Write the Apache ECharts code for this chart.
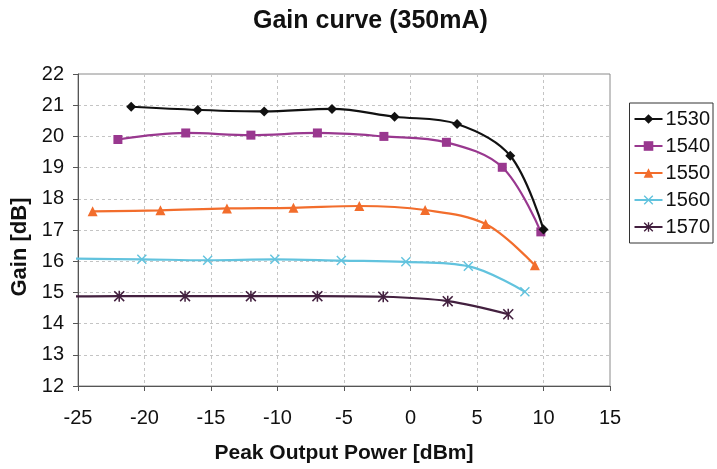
<!DOCTYPE html>
<html>
<head>
<meta charset="utf-8">
<script src="https://cdn.jsdelivr.net/npm/echarts@6/dist/echarts.min.js"></script>
<style>
  html, body { margin: 0; padding: 0; background: #ffffff; }
  #chart { width: 717px; height: 469px; }
</style>
</head>
<body>
<div id="chart"></div>
<script>
// Peak output power [dBm] and gain [dB] for each wavelength (nm)
var names = ['1530', '1540', '1550', '1560', '1570'];

var power1530 = [-21.0, -16.0, -11.0, -5.9, -1.2, 3.5, 7.5, 10.0];
var gain1530  = [20.95, 20.85, 20.8, 20.88, 20.63, 20.4, 19.38, 17.02];

var power1540 = [-22.0, -16.9, -12.0, -7.0, -2.0, 2.7, 6.9, 9.8];
var gain1540  = [19.9, 20.11, 20.04, 20.11, 20.0, 19.81, 19.01, 16.94];

var power1550 = [-23.9, -18.8, -13.8, -8.8, -3.85, 1.1, 5.65, 9.35];
var gain1550  = [17.6, 17.63, 17.69, 17.71, 17.77, 17.64, 17.19, 15.87];

var power1560 = [-25.2, -20.2, -15.25, -10.2, -5.2, -0.35, 4.35, 8.6];
var gain1560  = [16.08, 16.06, 16.03, 16.06, 16.02, 15.98, 15.84, 15.02];

var power1570 = [-26.9, -21.9, -16.95, -12.0, -7.0, -2.05, 2.8, 7.35];
var gain1570  = [14.86, 14.88, 14.88, 14.88, 14.88, 14.86, 14.72, 14.3];

var xTicks = { min: -25, max: 15, interval: 5 };
var yTicks = { min: 12, max: 22, interval: 1 };

var FONT = '"Liberation Sans", Arial, sans-serif';

// marker outlines
var crossPath = 'path://M0,1L1,0L5,4L9,0L10,1L6,5L10,9L9,10L5,6L1,10L0,9L4,5Z';
var starPath = 'path://M0,1L1,0L5,4L9,0L10,1L6,5L10,9L9,10L5,6L1,10L0,9L4,5Z' +
               'M4.3,0L5.7,0L5.7,10L4.3,10Z';

function pairs(xs, ys) {
  return xs.map(function (x, i) { return [x, ys[i]]; });
}

var styles = [
  { color: '#111111', symbol: 'diamond', size: 10 },
  { color: '#99388f', symbol: 'rect', size: 9 },
  { color: '#f26d2c', symbol: 'triangle', size: 10 },
  { color: '#62c3de', symbol: crossPath, size: 10 },
  { color: '#43203f', symbol: starPath, size: 11 }
];

var dataSets = [
  pairs(power1530, gain1530),
  pairs(power1540, gain1540),
  pairs(power1550, gain1550),
  pairs(power1560, gain1560),
  pairs(power1570, gain1570)
];

var series = names.map(function (n, i) {
  var s = styles[i];
  return {
    name: n,
    type: 'line',
    data: dataSets[i],
    smooth: 0.35,
    clip: true,
    symbol: s.symbol,
    symbolSize: s.size,
    showAllSymbol: true,
    lineStyle: { color: s.color, width: 2.2 },
    itemStyle: { color: s.color },
    emphasis: { disabled: true },
    z: 10 - i
  };
});

var chart = echarts.init(document.getElementById('chart'), null, { renderer: 'canvas' });
chart.setOption({
  animation: false,
  backgroundColor: '#ffffff',
  title: {
    text: 'Gain curve (350mA)',
    left: 253,
    top: 9,
    padding: 0,
    textStyle: { fontFamily: FONT, fontSize: 25, fontWeight: 'bold', color: '#111' }
  },
  grid: {
    left: 78, right: 107, top: 74, bottom: 83,
    show: true, borderColor: '#8a8a8a', borderWidth: 1, backgroundColor: 'transparent'
  },
  legend: {
    orient: 'vertical',
    right: 4,
    top: 103,
    data: names,
    itemWidth: 28,
    itemHeight: 12,
    itemGap: 7,
    padding: [6, 3, 6, 4],
    borderColor: '#333',
    borderWidth: 1,
    backgroundColor: '#fff',
    textStyle: { fontFamily: FONT, fontSize: 20, color: '#111', padding: [0, 0, 0, -2] }
  },
  xAxis: {
    type: 'value',
    min: xTicks.min, max: xTicks.max, interval: xTicks.interval,
    name: 'Peak Output Power [dBm]',
    nameLocation: 'middle',
    nameGap: 57,
    nameTextStyle: { fontFamily: FONT, fontSize: 21, fontWeight: 'bold', color: '#111' },
    axisLine: { onZero: false, lineStyle: { color: '#555', width: 1 } },
    axisTick: { show: true, length: 5, lineStyle: { color: '#555' } },
    axisLabel: { fontFamily: FONT, fontSize: 20, color: '#111', margin: 22 },
    splitLine: { show: true, lineStyle: { color: '#c4c4c4', type: [3, 3], width: 1 } }
  },
  yAxis: {
    type: 'value',
    min: yTicks.min, max: yTicks.max, interval: yTicks.interval,
    axisLine: { show: true, onZero: false, lineStyle: { color: '#555', width: 1 } },
    axisTick: { show: true, length: 5, lineStyle: { color: '#555' } },
    axisLabel: { fontFamily: FONT, fontSize: 20, color: '#111', margin: 14 },
    splitLine: { show: true, lineStyle: { color: '#c4c4c4', type: [3, 3], width: 1 } }
  },
  graphic: [{
    type: 'text',
    x: 20,
    y: 247,
    rotation: Math.PI / 2,
    style: {
      text: 'Gain [dB]',
      fontFamily: FONT,
      fontSize: 22,
      fontWeight: 'bold',
      fill: '#111',
      textAlign: 'center',
      textVerticalAlign: 'middle'
    }
  }],
  series: series
});
</script>
</body>
</html>
